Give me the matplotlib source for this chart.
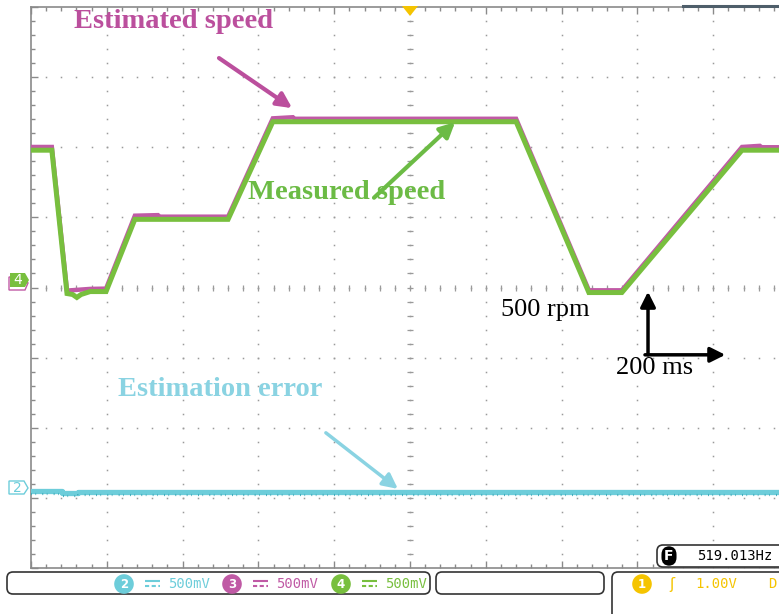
import numpy as np
import matplotlib.pyplot as plt
from matplotlib.patches import FancyBboxPatch, Polygon
from matplotlib.ticker import MultipleLocator

# scope settings: 200 ms/div, 500 rpm/div
meas_t = [0, 55, 95, 110, 121, 132, 156, 198, 274, 520, 638, 1280, 1472, 1559, 1876, 2000]
meas_rpm = [979, 979, -43, -50, -71, -50, -29, -29, 486, 486, 1182, 1182, -36, -36, 979, 979]

est_t = [0, 55, 95, 156, 198, 274, 335, 340, 520, 638, 691, 696, 1280, 1472, 1559, 1876, 1923, 1928, 2000]
est_rpm = [1002, 1002, -22, -10, -8, 512, 516, 505, 505, 1206, 1214, 1203, 1203, -20, -20, 1002, 1010, 1000, 1000]

err_t = [0, 82, 82, 125, 125, 2000]
err_rpm = [-30, -30, -42, -42, -35, -35]
ch2_offset = -1420  # channel 2 ground marker (rpm on screen)

GREEN = '#78bf3e'
MAGENTA = '#c05aa5'
CYAN = '#6dcdda'
GRID = '#9a9a9a'
YELLOW = '#f5c400'

fig = plt.figure(figsize=(7.79, 6.14), dpi=100)
ax = fig.add_axes([31 / 779, 46 / 614, 758 / 779, 561 / 614])
ax.set_xlim(0, 2000)
ax.set_ylim(-2000, 2000)

for s in ax.spines.values():
    s.set_color('#8a8a8a')
    s.set_linewidth(1.2)
ax.xaxis.set_major_locator(MultipleLocator(200))
ax.xaxis.set_minor_locator(MultipleLocator(40))
ax.yaxis.set_major_locator(MultipleLocator(500))
ax.yaxis.set_minor_locator(MultipleLocator(100))
ax.tick_params(which='both', direction='in', top=True, right=True,
               labelbottom=False, labelleft=False, color='#8a8a8a')
ax.tick_params(which='major', length=5, width=1)
ax.tick_params(which='minor', length=3, width=1)

# dotted graticule
xmaj = np.arange(200, 2000, 200)
ymaj = np.arange(-1500, 2000, 500)
xmin = np.arange(40, 2000, 40)
ymin = np.arange(-1900, 2000, 100)
gx, gy = np.meshgrid(xmaj, ymin)
ax.plot(gx.ravel(), gy.ravel(), ls='none', marker='s', ms=1.1, mew=0, color=GRID, zorder=1)
gx, gy = np.meshgrid(xmin, ymaj)
ax.plot(gx.ravel(), gy.ravel(), ls='none', marker='s', ms=1.1, mew=0, color=GRID, zorder=1)
# centre cross ticks
ax.plot(xmin, np.zeros_like(xmin), ls='none', marker='|', ms=4, mew=0.9, color=GRID, zorder=1)
ax.plot(np.full_like(ymin, 1000), ymin, ls='none', marker='_', ms=4, mew=0.9, color=GRID, zorder=1)

# traces
ax.plot(est_t, est_rpm, color=MAGENTA, lw=3.2, solid_joinstyle='miter', zorder=3)
ax.plot(meas_t, meas_rpm, color=GREEN, lw=3.6, solid_joinstyle='miter', zorder=4)
err_screen = [v + ch2_offset for v in err_rpm]
ax.plot(err_t, err_screen, color=CYAN, lw=3.8, zorder=3)
ax.plot(err_t, [v - 22 for v in err_screen], color='#3aa9b8', lw=1.6,
        ls=(0, (0.4, 1.6, 0.3, 2.8)), zorder=3)

# annotations
serif = 'Liberation Serif'
ax.text(375, 1900, 'Estimated speed', color='#bb4f9d', fontsize=20.5, fontweight='bold',
        family=serif, ha='center', va='center')
ax.annotate('', xy=(689, 1279), xytext=(496, 1636),
            arrowprops=dict(arrowstyle='-|>,head_length=0.9,head_width=0.45', lw=3,
                            color='#bb4f9d', shrinkA=0, shrinkB=0))
ax.text(834, 680, 'Measured speed', color='#6cbb45', fontsize=20.5, fontweight='bold',
        family=serif, ha='center', va='center', zorder=5)
ax.annotate('', xy=(1119, 1179), xytext=(905, 640),
            arrowprops=dict(arrowstyle='-|>,head_length=0.9,head_width=0.45', lw=3,
                            color='#6cbb45', shrinkA=0, shrinkB=0), zorder=6)
ax.text(499, -728, 'Estimation error', color='#8ad3e2', fontsize=20.5, fontweight='bold',
        family=serif, ha='center', va='center')
ax.annotate('', xy=(968, -1436), xytext=(778, -1036),
            arrowprops=dict(arrowstyle='-|>,head_length=0.9,head_width=0.45', lw=2.5,
                            color='#8ad3e2', shrinkA=0, shrinkB=0))

ax.text(1356, -157, '500 rpm', color='black', fontsize=19, family=serif,
        ha='center', va='center')
ax.text(1646, -571, '200 ms', color='black', fontsize=19, family=serif,
        ha='center', va='center')
ax.annotate('', xy=(1628, -30), xytext=(1628, -480),
            arrowprops=dict(arrowstyle='-|>,head_length=0.9,head_width=0.45', lw=2.5,
                            color='black', shrinkA=0, shrinkB=0))
ax.annotate('', xy=(1832, -480), xytext=(1620, -480),
            arrowprops=dict(arrowstyle='-|>,head_length=0.9,head_width=0.45', lw=2.5,
                            color='black', shrinkA=0, shrinkB=0))

# scope chrome overlay (pixel coordinates)
ov = fig.add_axes([0, 0, 1, 1], zorder=5)
ov.set_xlim(0, 779)
ov.set_ylim(614, 0)
ov.axis('off')
ov.patch.set_alpha(0)

ov.add_patch(Polygon([(402, 6), (418, 6), (410, 16)], closed=True, fc=YELLOW, ec='none'))
ov.plot([683, 779], [6, 6], color='#4e5e6a', lw=2.2)

# channel markers
ov.add_patch(Polygon([(9, 277), (25, 277), (28, 283), (25, 290), (9, 290)], closed=True,
                     fc='white', ec=MAGENTA, lw=1))
ov.add_patch(Polygon([(10, 273), (25, 273), (29, 280), (25, 287), (10, 287)], closed=True,
                     fc=GREEN, ec='none'))
ov.text(18, 280.5, '4', color='white', fontsize=10, ha='center', va='center')
ov.add_patch(Polygon([(9, 481), (24, 481), (28, 488), (24, 494), (9, 494)], closed=True,
                     fc='white', ec=CYAN, lw=1))
ov.text(17, 488, '2', color=CYAN, fontsize=10, ha='center', va='center')

# bottom status boxes
box = dict(boxstyle='round,pad=0,rounding_size=6', fc='white', ec='#333333', lw=1.2)
ov.add_patch(FancyBboxPatch((7, 572), 423, 22, **box))
ov.add_patch(FancyBboxPatch((436, 572), 168, 22, **box))
ov.add_patch(FancyBboxPatch((612, 572), 220, 60, **box))
ov.add_patch(FancyBboxPatch((657, 545), 200, 22, **box))

mono = 'DejaVu Sans Mono'
for cx, num, col in [(124, '2', CYAN), (232, '3', MAGENTA), (341, '4', GREEN)]:
    ov.text(cx, 584, num, color='white', fontsize=8.5, fontweight='bold', ha='center', va='center',
            bbox=dict(boxstyle='circle,pad=0.28', fc=col, ec='none'))
    ov.plot([cx + 21, cx + 36], [581, 581], color=col, lw=1.5, solid_capstyle='butt')
    ov.plot([cx + 21, cx + 36], [586, 586], color=col, lw=1.5, ls=(0, (2, 1.2)))
    ov.text(cx + 44, 584, '500mV', color=col, fontsize=10, family=mono, ha='left', va='center')

ov.text(642, 584, '1', color='white', fontsize=8.5, fontweight='bold', ha='center', va='center',
        bbox=dict(boxstyle='circle,pad=0.28', fc=YELLOW, ec='none'))
ov.text(672, 584, 'ʃ', color=YELLOW, fontsize=11, ha='center', va='center')
ov.text(695, 584, '1.00V', color=YELLOW, fontsize=10, family=mono, ha='left', va='center')
ov.text(768, 584, 'D', color=YELLOW, fontsize=10, family=mono, ha='left', va='center')

ov.text(669, 556, 'F', color='white', fontsize=10, fontweight='bold', ha='center', va='center',
        bbox=dict(boxstyle='round,pad=0.2,rounding_size=0.6', fc='black', ec='none'))
ov.text(697, 556, '519.013Hz', color='black', fontsize=10, family=mono, ha='left', va='center')

fig.savefig('out.png', dpi=100)
